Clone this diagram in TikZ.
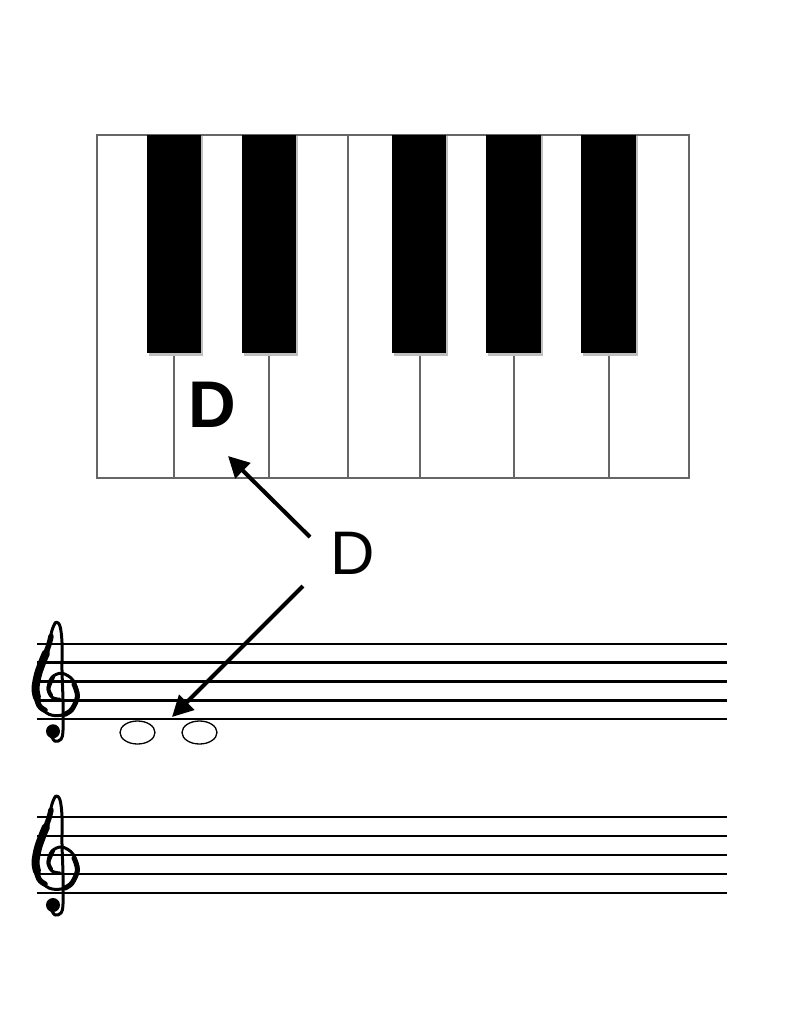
\documentclass[tikz,border=0pt]{standalone}
\usepackage{fontspec}
\setmainfont{Liberation Sans}
\usetikzlibrary{arrows.meta}
\begin{document}
\begin{tikzpicture}[x=1pt,y=-1pt,
  keyline/.style={draw=black!60, line width=1.2pt},
  blackkey/.style={fill=black},
  keyshadow/.style={fill=black!25},
  staffline/.style={line width=2.8pt},
  notehead/.style={draw, line width=1.3pt},
  pointer/.style={line width=4pt, -{Triangle[length=21pt,width=21pt]}},
  clefstroke/.style={line width=3pt, line cap=round, line join=round},
  trebleclef/.pic={
    \draw[clefstroke] plot[smooth, tension=0.55] coordinates {
      (-6,35) (-2,41) (4,39) (6,30) (6,0) (5,-30) (5,-58) (3,-74) (-1,-78)
      (-5,-70) (-8,-56) (-13,-42) (-19,-26) (-22,-10) (-18,5) (-8,14) (4,15)
      (15,9) (21,-4) (16,-20) (5,-27) (-5,-23) (-9,-12) (-5,-3) (3,-1)};
    \draw[clefstroke, line width=5.5pt] plot[smooth, tension=0.55] coordinates {
      (-6,-64) (-8,-56) (-13,-42) (-19,-26) (-22,-10) (-18,5) (-12,10)};
    \draw[clefstroke, line width=8pt] plot[smooth, tension=0.55] coordinates {
      (-11,-47) (-14,-40) (-19,-26) (-21.5,-12) (-20,-3)};
    \draw[clefstroke, line width=5pt] plot[smooth, tension=0.55] coordinates {
      (8,14) (15,9) (20.5,-4) (17,-16)};
    \draw[clefstroke, line width=4pt] plot[smooth, tension=0.55] coordinates {
      (-4,-23) (-8.5,-12) (-6,-5)};
    \fill (-4,31) circle[radius=7];
  }]
\useasboundingbox (0,0) rectangle (791,1024);
% keyboard outline
\draw[keyline] (97,135) rectangle (689,478);
% full-height divider
\draw[keyline] (348,135) -- (348,478);
% short dividers
\foreach \x in {174,269,420,514,609} \draw[keyline] (\x,353) -- (\x,478);
% black keys
\foreach \a/\b in {147/201,242/296,392/446,486/541,581/636} {
  \fill[keyshadow] (\a+2,136) rectangle (\b+2,355.5);
  \fill[blackkey] (\a,135) rectangle (\b,353);
}
% labels
\node[font=\bfseries\fontsize{66}{66}\selectfont, inner sep=0pt] (keyD) at (212,405) {D};
\node[font=\fontsize{61.5}{61.5}\selectfont, inner sep=0pt] (bigD) at (352.5,553) {D};
% staves
\foreach \y in {644,662.75,681.5,700.25,719} \draw[staffline] (37,\y) -- (727,\y);
\foreach \y in {817,836,855,874,893} \draw[staffline] (37,\y) -- (727,\y);
\pic at (57,700.25) {trebleclef};
\pic at (57,874) {trebleclef};
% notes
\node[inner sep=0pt, minimum size=0pt] (note1) at (137.5,732.5) {};
\node[inner sep=0pt, minimum size=0pt] (note2) at (199.5,732.5) {};
\draw[notehead] (note1) ellipse [x radius=17.5, y radius=11.5];
\draw[notehead] (note2) ellipse [x radius=17.5, y radius=11.5];
% arrows
\coordinate (tailA) at (310,537);
\coordinate (tipA) at (228,456);
\coordinate (tailB) at (303,586);
\coordinate (tipB) at (172,717);
\draw[pointer] (tailA) -- (tipA);
\draw[pointer] (tailB) -- (tipB);
\end{tikzpicture}
\end{document}
